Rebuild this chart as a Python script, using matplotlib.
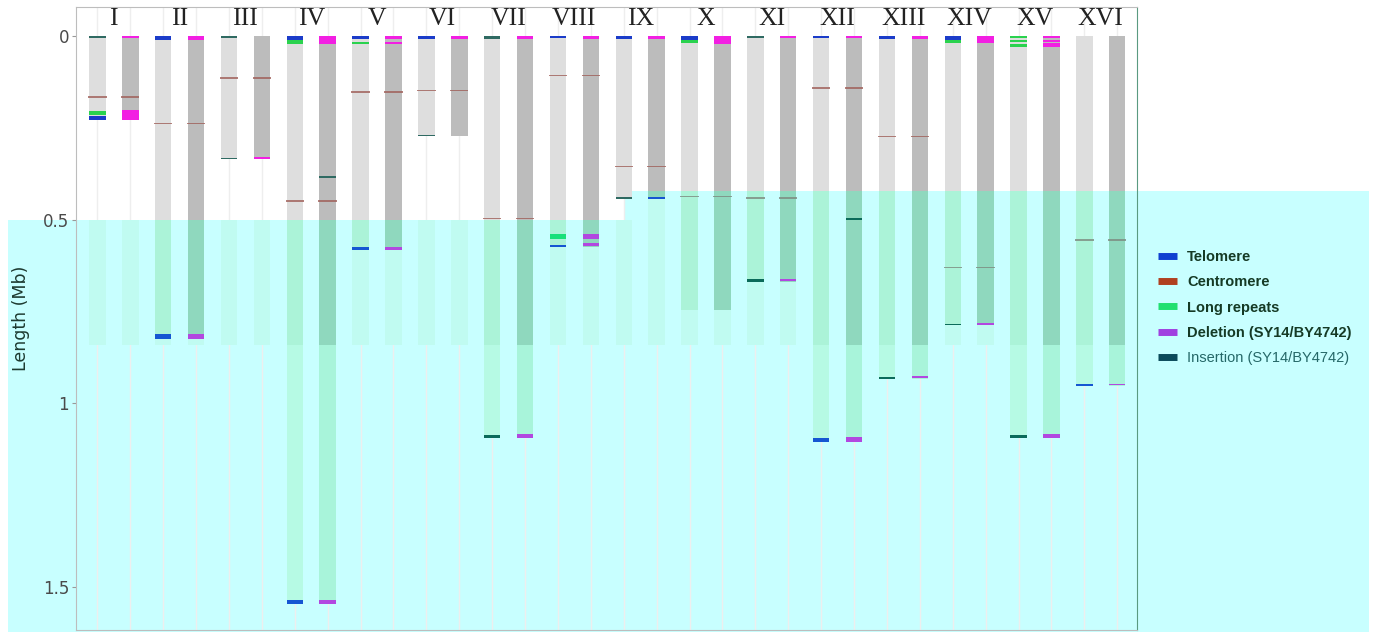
import matplotlib
matplotlib.use("Agg")
import matplotlib.pyplot as plt
from matplotlib.patches import Polygon
from matplotlib.lines import Line2D

# === data (Mb) ===
chroms = ['I', 'II', 'III', 'IV', 'V', 'VI', 'VII', 'VIII',
          'IX', 'X', 'XI', 'XII', 'XIII', 'XIV', 'XV', 'XVI']
chrom_len = [0.228, 0.824, 0.334, 1.546, 0.582, 0.272, 1.094, 0.575,
             0.442, 0.746, 0.668, 1.106, 0.932, 0.787, 1.095, 0.953]

# centromere per chromosome (None = not visible)
centromere = [0.165, 0.238, 0.114, 0.449, 0.152, 0.148, 0.496, 0.107,
              0.355, 0.436, 0.440, 0.140, 0.273, 0.630, None, 0.555]

# (chromosome, strain 0 = left bar / 1 = right bar, start, end)
telomere = [
    ('I', 0, 0.216, 0.228), ('II', 0, 0.0, 0.009), ('II', 0, 0.812, 0.824),
    ('IV', 0, 0.0, 0.010), ('IV', 0, 1.535, 1.546), ('V', 0, 0.0, 0.007),
    ('V', 0, 0.575, 0.582), ('VI', 0, 0.0, 0.007), ('VIII', 0, 0.0, 0.005),
    ('VIII', 0, 0.567, 0.575), ('IX', 0, 0.0, 0.007), ('IX', 1, 0.437, 0.442),
    ('X', 0, 0.0, 0.009), ('XII', 0, 0.0, 0.004), ('XII', 0, 1.095, 1.106),
    ('XIII', 0, 0.0, 0.007), ('XIV', 0, 0.0, 0.010), ('XVI', 0, 0.947, 0.952),
]
long_repeats = [
    ('I', 0, 0.204, 0.215), ('IV', 0, 0.010, 0.020), ('V', 0, 0.016, 0.021),
    ('VIII', 0, 0.539, 0.553), ('X', 0, 0.009, 0.019), ('XIV', 0, 0.010, 0.018),
    ('XV', 0, 0.0, 0.005), ('XV', 0, 0.009, 0.014), ('XV', 0, 0.022, 0.028),
]
deletion = [
    ('I', 1, 0.0, 0.003), ('I', 1, 0.200, 0.228), ('II', 1, 0.0, 0.010),
    ('II', 1, 0.811, 0.823), ('III', 1, 0.329, 0.334), ('IV', 1, 0.0, 0.020),
    ('IV', 1, 1.535, 1.546), ('V', 1, 0.0, 0.007), ('V', 1, 0.014, 0.021),
    ('V', 1, 0.575, 0.582), ('VI', 1, 0.0, 0.007), ('VII', 1, 0.0, 0.007),
    ('VII', 1, 1.083, 1.093), ('VIII', 1, 0.0, 0.007), ('VIII', 1, 0.539, 0.552),
    ('VIII', 1, 0.564, 0.572), ('IX', 1, 0.0, 0.008), ('X', 1, 0.0, 0.020),
    ('XI', 1, 0.0, 0.004), ('XI', 1, 0.661, 0.667), ('XII', 1, 0.0, 0.004),
    ('XII', 1, 1.090, 1.104), ('XIII', 1, 0.0, 0.008), ('XIII', 1, 0.926, 0.931),
    ('XIV', 1, 0.0, 0.018), ('XIV', 1, 0.781, 0.786), ('XV', 1, 0.0, 0.005),
    ('XV', 1, 0.009, 0.015), ('XV', 1, 0.018, 0.030), ('XV', 1, 1.083, 1.093),
    ('XVI', 1, 0.946, 0.951),
]
insertion = [
    ('I', 0, 0.0, 0.003), ('III', 0, 0.0, 0.003), ('III', 0, 0.330, 0.334),
    ('IV', 1, 0.381, 0.384), ('VI', 0, 0.268, 0.272), ('VII', 0, 0.0, 0.008),
    ('VII', 0, 1.087, 1.094), ('IX', 0, 0.437, 0.442), ('XI', 0, 0.0, 0.003),
    ('XI', 0, 0.662, 0.668), ('XII', 1, 0.495, 0.499), ('XIII', 0, 0.929, 0.933),
    ('XIV', 0, 0.783, 0.787), ('XV', 0, 1.087, 1.095),
]

legend_labels = ['Telomere', 'Centromere', 'Long repeats',
                 'Deletion (SY14/BY4742)', 'Insertion (SY14/BY4742)']

# === styles ===
bar_w = 0.5
gray = ['#dedede', '#bcbcbc']
mint_band = ['#abf3d8', '#8fd8be']
mint_low = ['#b6fae4', '#a8f4da']
ghost = '#c0fbf1'
cyan = '#c8ffff'
band_low = 0.84
# (normal colour, colour inside the cyan zone)
colors = {
    'tel': ('#1b3cc9', '#1556d2'),
    'cen': ('#a0605a', '#7d8a80'),
    'rep': ('#2ad24e', '#18e07a'),
    'del': ('#f21fe2', '#b247e0'),
    'ins': ('#2f6a62', '#0b6a5a'),
}


def col_x(ci, strain):
    return 2 * ci + 1 + strain


def zone_top(x):
    return 0.5 if x <= 17 else 0.42


fig = plt.figure(figsize=(13.85, 6.32), dpi=100)
ax = fig.add_axes([76 / 1385, 2 / 632, (1137 - 76) / 1385, (630 - 7) / 632])
ax.set_facecolor('none')
ax.set_zorder(1)
ax.set_xlim(0.35, 32.6)
ax.set_ylim(1.617, -0.08)

# cyan zone behind everything
to_fig = ax.transData + fig.transFigure.inverted()
_, y_left = to_fig.transform((1, 0.5))
x_step, y_right = to_fig.transform((17.0, 0.42))
poly = Polygon([(8 / 1385, y_left), (x_step, y_left), (x_step, y_right),
                (1369 / 1385, y_right), (1369 / 1385, 0.0), (8 / 1385, 0.0)],
               closed=True, transform=fig.transFigure, facecolor=cyan,
               edgecolor='none', zorder=-5)
fig.patches.append(poly)

# faint grid / ghost stripes
for x in range(1, 33):
    ax.axvline(x, color='#eeeeee', lw=1, zorder=0.5)
    top = zone_top(x)
    ax.bar(x, band_low - top, bottom=top, width=bar_w, color=ghost, zorder=1)

# chromosome bars
for ci, length in enumerate(chrom_len):
    for s in (0, 1):
        x = col_x(ci, s)
        top = zone_top(x)
        ax.bar(x, min(length, top), bottom=0, width=bar_w, color=gray[s], zorder=2)
        if length > top:
            ax.bar(x, min(length, band_low) - top, bottom=top, width=bar_w,
                   color=mint_band[s], zorder=2)
        if length > band_low:
            ax.bar(x, length - band_low, bottom=band_low, width=bar_w,
                   color=mint_low[s], zorder=2)
        cen = centromere[ci]
        if cen is not None:
            ax.bar(x, 0.004, bottom=cen - 0.002, width=0.56,
                   color=colors['cen'][int(cen > top)], alpha=0.8, zorder=3)


def draw(features, key):
    for name, s, start, end in features:
        x = col_x(chroms.index(name), s)
        c = colors[key][int(start > zone_top(x))]
        ax.bar(x, max(end - start, 0.004), bottom=start, width=bar_w,
               color=c, zorder=4)


draw(insertion, 'ins')
draw(long_repeats, 'rep')
draw(telomere, 'tel')
draw(deletion, 'del')

# chromosome names
for ci, name in enumerate(chroms):
    ax.text(2 * ci + 1.5, -0.047, name, ha='center', va='center',
            family='Liberation Serif', fontsize=18.5, color='#222222', zorder=5)

# axes styling
ax.set_xticks(range(1, 33))
ax.tick_params(axis='x', length=0, labelbottom=False)
ax.set_yticks([0, 0.5, 1, 1.5])
ax.set_yticklabels(['0', '0.5', '1', '1.5'])
ax.tick_params(axis='y', length=3, color='#999999', labelsize=12,
               labelcolor='#4a4a4a', pad=2)
for side in ('top', 'left', 'bottom'):
    ax.spines[side].set_color('#bdbdbd')
ax.spines['right'].set_color('#5a9a80')
ax.set_ylabel('Length (Mb)', fontsize=12.5, color='#1d3a30', labelpad=9)

# legend
handles = [Line2D([], [], color=c, lw=5, solid_capstyle='butt')
           for c in ['#1040d0', '#b04020', '#20e070', '#a040e0', '#0a4a5a']]
leg = fig.legend(handles, legend_labels, loc='upper left',
                 bbox_to_anchor=(1152 / 1385, 1 - 244 / 632), frameon=False,
                 fontsize=10.5, handlelength=1.3, handletextpad=0.7,
                 labelspacing=0.78, borderaxespad=0)
leg.set_zorder(10)
for i, t in enumerate(leg.get_texts()):
    t.set_family('Liberation Sans')
    if i < 4:
        t.set_fontweight('bold')
        t.set_color('#153a25')
    else:
        t.set_color('#256868')

fig.savefig('out.png', dpi=100)
